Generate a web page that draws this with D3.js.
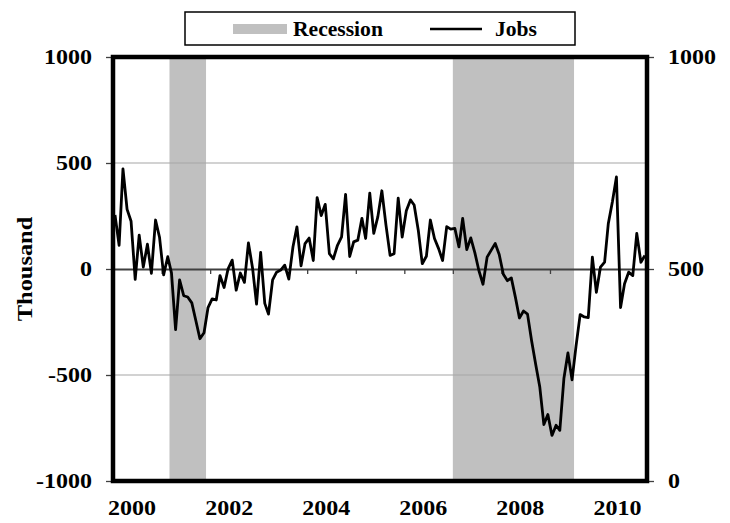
<!DOCTYPE html>
<html>
<head>
<meta charset="utf-8">
<script src="https://cdn.jsdelivr.net/npm/d3@7"></script>
<style>
  body { margin: 0; background: #fff; }
  text { font-family: "Liberation Serif", "Times New Roman", serif; font-weight: bold; fill: #000; }
</style>
</head>
<body>
<div id="chart"></div>
<script>
// monthly change in payroll jobs, thousands, Jan 2000 .. Dec 2010
var startMonth = "2000-01";
var jobs = [
  255, 112, 472, 281, 225, -49, 160, 9, 117, -20, 231, 150,
  -28, 58, -18, -286, -51, -126, -132, -160, -245, -329, -301, -182,
  -141, -146, -31, -87, 1, 42, -100, -19, -63, 123, 5, -166,
  78, -162, -213, -51, -15, -5, 18, -48, 104, 199, 15, 120,
  146, 40, 337, 252, 305, 72, 48, 112, 151, 352, 59, 128,
  136, 239, 144, 358, 168, 247, 369, 207, 64, 72, 334, 151,
  275, 326, 302, 183, 25, 60, 231, 144, 96, 40, 200, 188,
  192, 104, 239, 92, 147, 76, -7, -72, 56, 88, 120, 68,
  -25, -55, -42, -134, -231, -198, -213, -340, -452, -555, -734, -686,
  -785, -737, -761, -515, -396, -523, -364, -215, -226, -229, 56, -110,
  9, 32, 215, 318, 434, -182, -70, -15, -31, 168, 32, 64
];
// recession bands as drawn (first month, last month)
var recessions = [["2001-03", "2001-11"], ["2007-01", "2009-06"]];
var leftTicks = [-1000, -500, 0, 500, 1000];
var rightTicks = [0, 500, 1000];
var gridValues = [-500, 500];
var yearLabels = [2000, 2002, 2004, 2006, 2008, 2010];
var legendItems = ["Recession", "Jobs"];

var W = 730, H = 523;
var margin = {top: 57, right: 83, bottom: 42, left: 113};
var width = W - margin.left - margin.right,
    height = H - margin.top - margin.bottom;

var parseMonth = d3.timeParse("%Y-%m");
var t0 = parseMonth(startMonth);
var data = jobs.map(function(v, i) {
  var m = d3.timeMonth.offset(t0, i);
  return {date: d3.timeDay.offset(m, 15), value: v};
});

var x = d3.scaleTime()
  .domain([t0, d3.timeMonth.offset(t0, jobs.length)])
  .range([0, width]);
var y = d3.scaleLinear().domain([-1000, 1000]).range([height, 0]);
var y2 = d3.scaleLinear().domain([0, 1000]).range([height, 0]);

// plain integers with an ascii hyphen, like the original
var plain = function(d) { return String(d); };

var svg = d3.select("#chart").append("svg")
  .attr("width", W)
  .attr("height", H);

var g = svg.append("g")
  .attr("transform", "translate(" + margin.left + "," + margin.top + ")");

// recession shading
g.selectAll(".rec")
  .data(recessions)
  .enter().append("rect")
  .attr("class", "rec")
  .attr("x", function(d) { return x(parseMonth(d[0])); })
  .attr("width", function(d) {
    return x(d3.timeMonth.offset(parseMonth(d[1]), 1)) - x(parseMonth(d[0]));
  })
  .attr("y", 0)
  .attr("height", height)
  .attr("fill", "#c0c0c0");

// gridlines
g.selectAll(".grid")
  .data(gridValues)
  .enter().append("line")
  .attr("x1", 0).attr("x2", width)
  .attr("y1", function(d) { return y(d); })
  .attr("y2", function(d) { return y(d); })
  .attr("stroke", "#a6a6a6")
  .attr("stroke-width", 1.2);

// x axis on the zero line
var xAxis = g.append("g")
  .attr("transform", "translate(0," + y(0) + ")")
  .call(d3.axisBottom(x).ticks(d3.timeYear.every(1)).tickSize(5).tickFormat(""));
xAxis.select(".domain").attr("stroke", "#404040").attr("stroke-width", 2);
xAxis.selectAll(".tick line").attr("stroke", "#404040").attr("stroke-width", 1.3);

// year labels along the bottom
g.selectAll(".yl")
  .data(yearLabels)
  .enter().append("text")
  .attr("text-anchor", "middle")
  .attr("font-size", 20)
  .attr("transform", function(d) {
    return "translate(" + (x(new Date(d, 0, 1)) + 19) + "," + (height + 34) + ") scale(1.2,1)";
  })
  .text(function(d) { return d; });

// jobs line
var line = d3.line()
  .x(function(d) { return x(d.date); })
  .y(function(d) { return y(d.value); });

g.append("path")
  .datum(data)
  .attr("fill", "none")
  .attr("stroke", "#000")
  .attr("stroke-width", 2.8)
  .attr("stroke-linejoin", "round")
  .attr("d", line);

// left axis
var yAxisL = g.append("g")
  .call(d3.axisLeft(y).tickValues(leftTicks).tickFormat(plain).tickSize(7));
yAxisL.select(".domain").remove();
yAxisL.selectAll(".tick line").attr("stroke", "#404040").attr("stroke-width", 1.3);
yAxisL.selectAll(".tick text")
  .attr("font-size", 20)
  .attr("font-family", "Liberation Serif")
  .attr("font-weight", "bold")
  .attr("fill", "#000")
  .attr("transform", "translate(-21,0) scale(1.2,1)")
  .attr("x", 0)
  .attr("dy", "0.34em");

// right axis
var yAxisR = g.append("g")
  .attr("transform", "translate(" + width + ",0)")
  .call(d3.axisRight(y2).tickValues(rightTicks).tickFormat(plain).tickSize(7));
yAxisR.select(".domain").remove();
yAxisR.selectAll(".tick line").attr("stroke", "#404040").attr("stroke-width", 1.3);
yAxisR.selectAll(".tick text")
  .attr("font-size", 20)
  .attr("font-family", "Liberation Serif")
  .attr("font-weight", "bold")
  .attr("fill", "#000")
  .attr("transform", "translate(21,0) scale(1.2,1)")
  .attr("x", 0)
  .attr("dy", "0.34em");

// plot frame
g.append("rect")
  .attr("x", 0).attr("y", 0)
  .attr("width", width).attr("height", height)
  .attr("fill", "none")
  .attr("stroke", "#000")
  .attr("stroke-width", 4.5);

// axis title
svg.append("text")
  .attr("text-anchor", "middle")
  .attr("font-size", 20)
  .attr("transform", "translate(32," + (margin.top + y(0)) + ") rotate(-90) scale(1.22,1)")
  .text("Thousand");

// legend
var lg = svg.append("g").attr("transform", "translate(185,12)");
lg.append("rect")
  .attr("width", 390).attr("height", 33)
  .attr("fill", "#fff")
  .attr("stroke", "#000")
  .attr("stroke-width", 1.5);
lg.append("rect")
  .attr("x", 48).attr("y", 12)
  .attr("width", 54).attr("height", 10)
  .attr("fill", "#c0c0c0");
lg.append("line")
  .attr("x1", 245).attr("x2", 297)
  .attr("y1", 17).attr("y2", 17)
  .attr("stroke", "#000").attr("stroke-width", 2.6);
lg.selectAll(".lt")
  .data(legendItems)
  .enter().append("text")
  .attr("font-size", 20)
  .attr("transform", function(d, i) {
    return "translate(" + (i === 0 ? 108 : 310) + ",24) scale(1.08,1)";
  })
  .text(function(d) { return d; });
</script>
</body>
</html>
